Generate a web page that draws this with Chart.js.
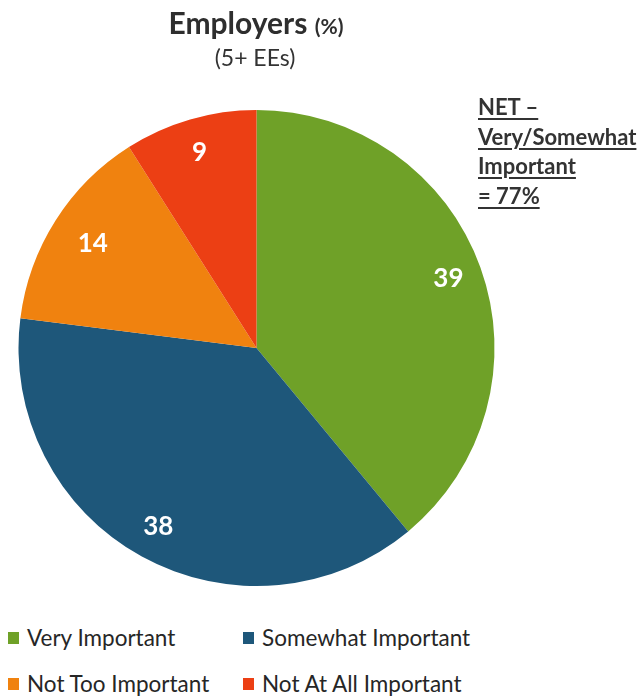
<!DOCTYPE html>
<html>
<head>
<meta charset="utf-8">
<script src="https://cdn.jsdelivr.net/npm/chart.js@4/dist/chart.umd.min.js"></script>
<style>
  html, body { margin: 0; padding: 0; background: #fff; }
  #wrap { position: relative; width: 644px; height: 697px; overflow: hidden; font-family: Lato, "Open Sans", sans-serif; }
  #chartBox { position: absolute; left: 0; top: 0; width: 644px; height: 610px; }
  #title { position: absolute; left: 0; width: 512px; top: 2px; text-align: center; color: #2e2e2e; font-weight: bold; font-size: 30px; line-height: 40px; }
  #title span { font-size: 21px; }
  #subtitle { position: absolute; left: 0; width: 510px; top: 42px; text-align: center; color: #333; font-size: 23px; line-height: 30px; }
  #note { position: absolute; left: 478px; top: 92px; color: #333; font-weight: bold; font-size: 22px; line-height: 29.5px; text-decoration: underline; text-decoration-thickness: 2px; text-underline-offset: 3px; white-space: nowrap; }
  .leg { position: absolute; display: flex; align-items: center; color: #262626; font-size: 22.5px; line-height: 26px; white-space: nowrap; }
  .leg i { display: inline-block; width: 11px; height: 12px; margin-right: 8px; }
</style>
</head>
<body>
<div id="wrap">
  <div id="chartBox"><canvas id="c" width="644" height="610"></canvas></div>
  <div id="title">Employers <span>(%)</span></div>
  <div id="subtitle">(5+ EEs)</div>
  <div id="note">NET –<br>Very/Somewhat<br>Important<br>= 77%</div>
  <div id="legend"></div>
</div>
<script>
const categories = ["Very Important", "Somewhat Important", "Not Too Important", "Not At All Important"];
const values = [39, 38, 14, 9];
const colors = ["#6fa128", "#1e577a", "#f0820f", "#ec3f14"];
const legendPos = [[8, 638], [243, 638], [8, 684], [243, 684]];

const labelPlugin = {
  id: 'sliceLabels',
  afterDatasetsDraw(chart) {
    const ctx = chart.ctx;
    const meta = chart.getDatasetMeta(0);
    ctx.save();
    ctx.fillStyle = '#ffffff';
    ctx.font = 'bold 26px Lato, "Open Sans", sans-serif';
    ctx.textAlign = 'center';
    ctx.textBaseline = 'middle';
    meta.data.forEach((arc, i) => {
      const p = arc.getProps(['x', 'y', 'startAngle', 'endAngle', 'outerRadius'], true);
      const mid = (p.startAngle + p.endAngle) / 2;
      const r = p.outerRadius * (i === 2 ? 0.815 : 0.857);
      ctx.fillText(String(chart.data.datasets[0].data[i]), p.x + Math.cos(mid) * r, p.y + Math.sin(mid) * r);
    });
    ctx.restore();
  }
};

new Chart(document.getElementById('c'), {
  type: 'pie',
  data: {
    labels: categories,
    datasets: [{ data: values, backgroundColor: colors, borderWidth: 0 }]
  },
  options: {
    responsive: false,
    animation: false,
    layout: { padding: { left: 18, right: 149, top: 110, bottom: 24 } },
    plugins: { legend: { display: false }, tooltip: { enabled: false } }
  },
  plugins: [labelPlugin]
});

const legend = document.getElementById('legend');
categories.forEach((name, i) => {
  const d = document.createElement('div');
  d.className = 'leg';
  d.style.left = legendPos[i][0] + 'px';
  d.style.top = (legendPos[i][1] - 13) + 'px';
  const sw = document.createElement('i');
  sw.style.background = colors[i];
  d.appendChild(sw);
  d.appendChild(document.createTextNode(name));
  legend.appendChild(d);
});
</script>
</body>
</html>
